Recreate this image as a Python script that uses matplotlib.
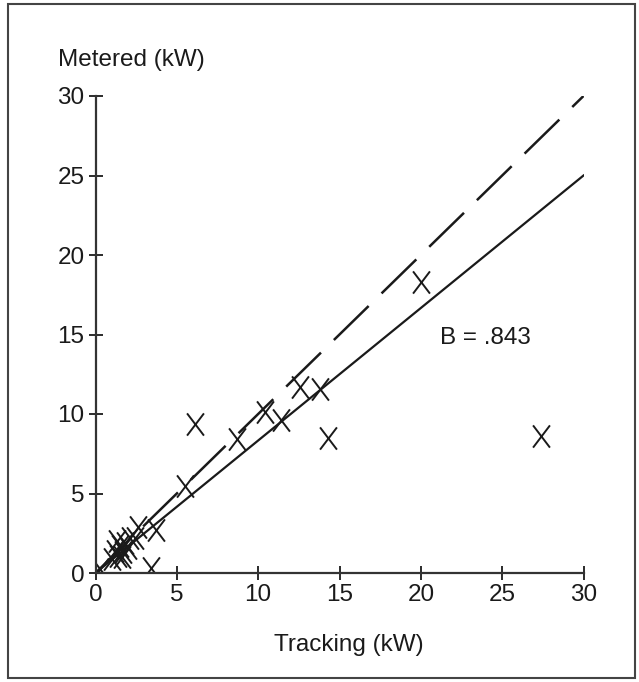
import numpy as np
import matplotlib
matplotlib.use("Agg")
import matplotlib.pyplot as plt
from matplotlib.patches import Rectangle
from matplotlib.path import Path

plt.rcParams['font.family'] = ['Liberation Sans', 'DejaVu Sans']
plt.rcParams['lines.scale_dashes'] = False

tracking = [0.25, 1.0, 1.2, 1.4, 1.5, 1.7, 1.8, 2.0, 2.1, 1.3, 1.6, 2.4,
            2.6, 3.7, 3.4, 5.5, 6.1, 8.7, 10.4, 11.4, 12.6, 13.8, 14.3, 20.0, 27.4]
metered = [0.25, 0.9, 1.4, 1.1, 1.7, 1.3, 1.9, 1.6, 2.2, 2.0, 1.0, 2.2,
           2.9, 2.7, 0.3, 5.5, 9.4, 8.4, 10.1, 9.6, 11.7, 11.6, 8.5, 18.3, 8.6]

# regression line (B = .843) and the 1:1 line
fit_x = [0, 30]
fit_y = [0, 25]
ref_x = [0, 30]
ref_y = [0, 30]

ticks = [0, 5, 10, 15, 20, 25, 30]

W, H = 639, 682
fig = plt.figure(figsize=(W / 100, H / 100), dpi=100)
ax = fig.add_axes([95.5 / W, 1 - 573 / H, 488 / W, 477 / H])

# letter-like X marker, a bit taller than wide
xmark = Path([(-0.38, -0.5), (0.38, 0.5), (-0.38, 0.5), (0.38, -0.5)],
             [Path.MOVETO, Path.LINETO, Path.MOVETO, Path.LINETO])

ax.plot(fit_x, fit_y, color='#1a1a1a', lw=1.6)
ax.plot(ref_x, ref_y, color='#1a1a1a', lw=1.8, dashes=(35, 13))
ax.plot(tracking, metered, ls='none', marker=xmark, color='#1a1a1a', ms=16, mew=1.4)

ax.set_xlim(0, 30)
ax.set_ylim(0, 30)
ax.set_xticks(ticks)
ax.set_yticks(ticks)
ax.tick_params(direction='inout', length=10, width=1.3, labelsize=17.5, pad=3, colors='#1a1a1a')
for s in ['top', 'right']:
    ax.spines[s].set_visible(False)
for s in ['left', 'bottom']:
    ax.spines[s].set_linewidth(1.6)
    ax.spines[s].set_color('#333333')

fig.text(349 / W, 1 - 645 / H, 'Tracking (kW)', fontsize=17.5, ha='center', va='center', color='#1a1a1a')
fig.text(58 / W, 1 - 60 / H, 'Metered (kW)', fontsize=17.5, va='center', ha='left', color='#1a1a1a')
ax.text(21.2, 14.8, 'B = .843', fontsize=17.5, va='center', ha='left', color='#1a1a1a')

fig.patches.append(Rectangle((8 / W, 4 / H), 627 / W, 674 / H, transform=fig.transFigure,
                             fill=False, lw=1.5, ec='#444444'))

fig.savefig('out.png', dpi=100)
